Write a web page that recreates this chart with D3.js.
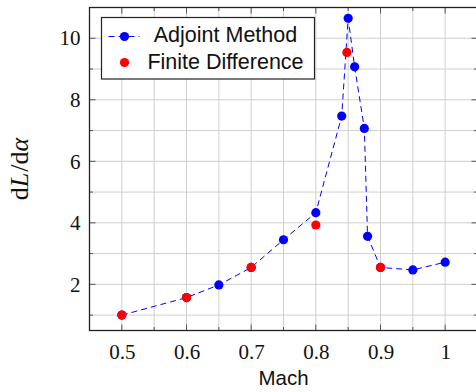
<!DOCTYPE html>
<html>
<head>
<meta charset="utf-8">
<script src="https://cdn.jsdelivr.net/npm/d3@7"></script>
<style>
  body { margin: 0; background: #fff; }
  svg { display: block; }
</style>
</head>
<body>
<div id="chart"></div>
<script>

// data
const adjointMach  = [0.5, 0.6, 0.65, 0.7, 0.75, 0.8, 0.84, 0.85, 0.86, 0.875, 0.88, 0.9, 0.95, 1.0];
const adjointDeriv = [1.0, 1.57, 1.98, 2.55, 3.45, 4.33, 7.47, 10.65, 9.07, 7.07, 3.56, 2.55, 2.47, 2.72];

const finiteMach  = [0.5, 0.6, 0.7, 0.8, 0.848, 0.9];
const finiteDeriv = [1.0, 1.57, 2.55, 3.93, 9.54, 2.55];

const xTicks = [0.5, 0.6, 0.7, 0.8, 0.9, 1];
const yTicks = [2, 4, 6, 8, 10];

const legendLabels = ["Adjoint Method", "Finite Difference"];

let width = 476, height = 392;
let margin = {top: 7.5, right: -1.5, bottom: 61.5, left: 89.5};
let w = width - margin.left - margin.right;
let h = height - margin.top - margin.bottom;

let svg = d3.select("#chart").append("svg")
    .attr("width", width)
    .attr("height", height);

let g = svg.append("g")
    .attr("transform", "translate(" + margin.left + "," + margin.top + ")");

let x = d3.scaleLinear().domain([0.45, 1.05]).range([0, w]);
let y = d3.scaleLinear().domain([0.5, 11]).range([h, 0]);

// grid, every 0.05 / every 1
let xGrid = d3.range(0.5, 1.0001, 0.05);
let yGrid = d3.range(1, 10.001, 1);

g.append("g").selectAll("line")
    .data(xGrid)
    .join("line")
    .attr("x1", d => x(d)).attr("x2", d => x(d))
    .attr("y1", 0).attr("y2", h)
    .attr("stroke", "#cfcfcf").attr("stroke-width", 1);

g.append("g").selectAll("line")
    .data(yGrid)
    .join("line")
    .attr("x1", 0).attr("x2", w)
    .attr("y1", d => y(d)).attr("y2", d => y(d))
    .attr("stroke", "#cfcfcf").attr("stroke-width", 1);

// inward ticks on all four sides
function isMajorX(d) { return Math.abs(d * 10 - Math.round(d * 10)) < 1e-6; }
function isMajorY(d) { return Math.round(d) % 2 === 0; }

let ticks = g.append("g").attr("stroke", "#555").attr("stroke-width", 1);
xGrid.forEach(d => {
    let len = isMajorX(d) ? 6 : 3.5;
    ticks.append("line").attr("x1", x(d)).attr("x2", x(d)).attr("y1", h).attr("y2", h - len);
    ticks.append("line").attr("x1", x(d)).attr("x2", x(d)).attr("y1", 0).attr("y2", len);
});
yGrid.forEach(d => {
    let len = isMajorY(d) ? 6 : 3.5;
    ticks.append("line").attr("x1", 0).attr("x2", len).attr("y1", y(d)).attr("y2", y(d));
    ticks.append("line").attr("x1", w).attr("x2", w - len).attr("y1", y(d)).attr("y2", y(d));
});

// axis labels with d3 axes (tick lines hidden)
let xAxis = d3.axisBottom(x).tickValues(xTicks).tickSize(0).tickPadding(14)
    .tickFormat(d3.format("~g"));
let yAxis = d3.axisLeft(y).tickValues(yTicks).tickSize(0).tickPadding(9)
    .tickFormat(d3.format("d"));

g.append("g")
    .attr("transform", "translate(0," + h + ")")
    .call(xAxis)
    .call(s => s.select(".domain").remove())
    .selectAll("text")
    .attr("font-family", "'Liberation Serif', 'Times New Roman', serif")
    .attr("font-size", "21px")
    .attr("fill", "#111");

g.append("g")
    .call(yAxis)
    .call(s => s.select(".domain").remove())
    .selectAll("text")
    .attr("font-family", "'Liberation Serif', 'Times New Roman', serif")
    .attr("font-size", "21px")
    .attr("fill", "#111");

// frame
g.append("rect")
    .attr("x", 0).attr("y", 0)
    .attr("width", w).attr("height", h)
    .attr("fill", "none")
    .attr("stroke", "#222")
    .attr("stroke-width", 1.3);

// adjoint dashed line + dots
let adjoint = adjointMach.map((m, i) => ({m: m, v: adjointDeriv[i]}));
let finite = finiteMach.map((m, i) => ({m: m, v: finiteDeriv[i]}));

let line = d3.line().x(d => x(d.m)).y(d => y(d.v));

g.append("path")
    .datum(adjoint)
    .attr("d", line)
    .attr("fill", "none")
    .attr("stroke", "#0000ff")
    .attr("stroke-width", 1)
    .attr("stroke-dasharray", "6,4");

g.append("g").selectAll("circle")
    .data(adjoint)
    .join("circle")
    .attr("cx", d => x(d.m))
    .attr("cy", d => y(d.v))
    .attr("r", 4.6)
    .attr("fill", "#0000ff");

g.append("g").selectAll("circle")
    .data(finite)
    .join("circle")
    .attr("cx", d => x(d.m))
    .attr("cy", d => y(d.v))
    .attr("r", 4.6)
    .attr("fill", "#ff0000");

// legend
let lg = svg.append("g");
lg.append("rect")
    .attr("x", 101.5).attr("y", 17.5)
    .attr("width", 213).attr("height", 61.5)
    .attr("fill", "#fff")
    .attr("stroke", "#222")
    .attr("stroke-width", 1.2);

lg.append("line")
    .attr("x1", 107.5).attr("x2", 139.5)
    .attr("y1", 36.5).attr("y2", 36.5)
    .attr("stroke", "#0000ff")
    .attr("stroke-dasharray", "6,4")
    .attr("stroke-dashoffset", -1);
lg.append("circle").attr("cx", 124.5).attr("cy", 36.5).attr("r", 4.6).attr("fill", "#0000ff");
lg.append("circle").attr("cx", 124.5).attr("cy", 62.5).attr("r", 4.6).attr("fill", "#ff0000");

lg.selectAll("text.leg")
    .data(legendLabels)
    .join("text")
    .attr("class", "leg")
    .attr("x", 225.5)
    .attr("y", (d, i) => 41.5 + i * 27.5)
    .attr("text-anchor", "middle")
    .attr("font-family", "'Liberation Sans', Arial, sans-serif")
    .attr("font-size", "21.5px")
    .attr("fill", "#111")
    .text(d => d);

// axis titles
svg.append("text")
    .attr("x", margin.left + x(0.75))
    .attr("y", 385)
    .attr("text-anchor", "middle")
    .attr("font-family", "'Liberation Sans', Arial, sans-serif")
    .attr("font-size", "20.5px")
    .attr("fill", "#111")
    .text("Mach");

let yl = svg.append("text")
    .attr("transform", "translate(28,169) rotate(-90)")
    .attr("text-anchor", "middle")
    .attr("font-family", "'Liberation Serif', 'Times New Roman', serif")
    .attr("font-size", "26px")
    .attr("fill", "#111");
yl.append("tspan").text("d");
yl.append("tspan").attr("font-style", "italic").text("L");
yl.append("tspan").attr("dx", 1).text("/");
yl.append("tspan").text("d");
yl.append("tspan").attr("font-style", "italic").text("α");

</script>
</body>
</html>
